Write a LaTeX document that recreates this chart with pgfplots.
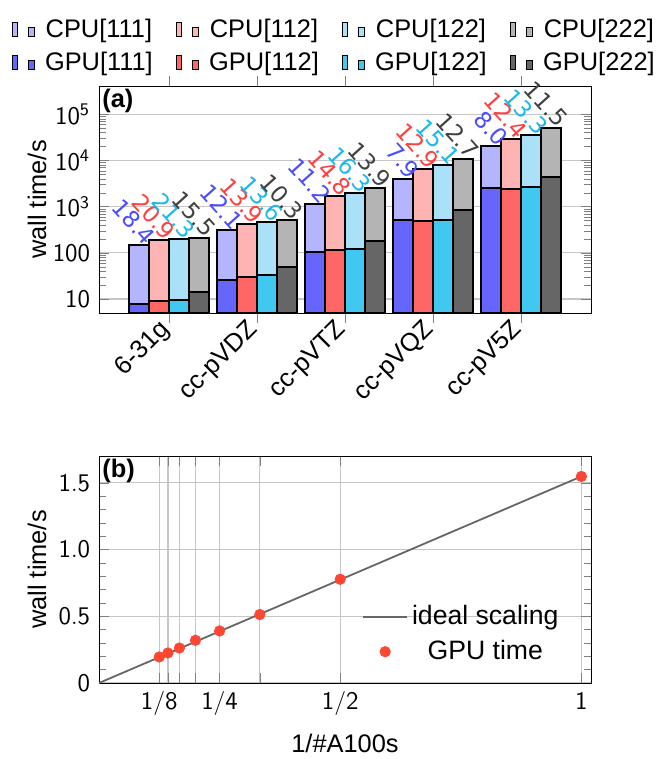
\documentclass[border=0pt]{standalone}
\usepackage{fontspec}
\setmainfont{Liberation Sans}
\newfontfamily\dv{DejaVu Sans}
\usepackage{pgfplots}
\pgfplotsset{compat=1.18}
\definecolor{ad}{RGB}{102,102,255}
\definecolor{al}{RGB}{180,180,255}
\definecolor{bd}{RGB}{255,102,102}
\definecolor{bl}{RGB}{255,180,180}
\definecolor{cd}{RGB}{64,200,240}
\definecolor{cl}{RGB}{170,224,248}
\definecolor{dd}{RGB}{102,102,102}
\definecolor{dl}{RGB}{180,180,180}
\definecolor{ta}{RGB}{77,77,255}
\definecolor{tb}{RGB}{255,64,64}
\definecolor{tc}{RGB}{27,185,235}
\definecolor{td}{RGB}{64,64,64}
\definecolor{dot}{RGB}{255,70,50}
\pgfplotstableread{
x cpu gpu s
0 146.8 7.98 18.4
1 315 26.0 12.1
2 1161 103.7 11.2
3 4037 511 7.9
4 20100 2513 8.0
}\tA
\pgfplotstableread{
x cpu gpu s
0 188 9.0 20.9
1 412 29.6 13.9
2 1680 113.5 14.8
3 6430 498 12.9
4 29900 2411 12.4
}\tB
\pgfplotstableread{
x cpu gpu s
0 201 9.44 21.3
1 455 33.5 13.6
2 2010 123.3 16.3
3 7850 520 15.1
4 35300 2654 13.3
}\tC
\pgfplotstableread{
x cpu gpu s
0 215 13.9 15.5
1 510 49.5 10.3
2 2500 180 13.9
3 10880 857 12.7
4 51600 4487 11.5
}\tD
\pgfplotstableread{
x t
1 154700
0.5 77700
0.333333 51300
0.25 39000
0.2 32000
0.166667 26200
0.142857 22500
0.125 19500
}\tS
\begin{document}
\fontsize{12.7}{15}\selectfont
\begin{tikzpicture}[font=\fontsize{12.7}{15}\selectfont]
\pgfplotsset{
  lab/.style={draw=none, fill=none, forget plot, nodes near coords, point meta=explicit symbolic,
    nodes near coords style={text=#1, font=\dv\fontsize{11.5}{13}\selectfont,
      xshift=7pt, yshift=1pt, rotate=-48, anchor=east, inner sep=1pt}},
}
\begin{axis}[
  scale only axis, width=246pt, height=113.5pt,
  ymode=log, ymin=5, ymax=4.1e5, log origin=infty,
  xmin=-0.795, xmax=4.795,
  ybar, bar width=10pt,
  xtick={0,1,2,3,4},
  xticklabels={6-31g,cc-pVDZ,cc-pVTZ,cc-pVQZ,cc-pV5Z},
  xticklabel style={rotate=45, anchor=east, inner sep=2pt},
  xtick align=outside,
  major tick length=5pt, minor tick length=3.5pt,
  ytick={10,100,1000,10000,100000},
  yticklabels={$\mathsf{10}$,$\mathsf{100}$,$\mathsf{10^3}$,$\mathsf{10^4}$,$\mathsf{10^5}$},
  ymajorgrids, grid style={gray!45, line width=0.6pt},
  ylabel={wall time/s},
  ylabel style={at={(axis description cs:-0.126,0.5)}, anchor=center},
  legend columns=4,
  legend style={at={(0.48,1.014)}, anchor=south, draw=none, fill=none,
    row sep=1.5pt,
    /tikz/every odd column/.append style={column sep=3pt},
    /tikz/every even column/.append style={column sep=9.5pt}},
  legend image code/.code={
    \draw[#1, line width=0.7pt] (0pt,-3.2pt) rectangle (2.5pt,3.8pt);
    \draw[#1, line width=0.7pt] (8pt,-3.2pt) rectangle (11pt,1.3pt);},
  every axis plot/.append style={draw=black, line width=1pt},
]
\addplot[fill=al, bar shift=-15pt] table[x=x,y=cpu] {\tA};
\addlegendentry{CPU[111]}
\addplot[fill=bl, bar shift=-5pt] table[x=x,y=cpu] {\tB};
\addlegendentry{CPU[112]}
\addplot[fill=cl, bar shift=5pt] table[x=x,y=cpu] {\tC};
\addlegendentry{CPU[122]}
\addplot[fill=dl, bar shift=15pt] table[x=x,y=cpu] {\tD};
\addlegendentry{CPU[222]}
\addplot[fill=ad, bar shift=-15pt] table[x=x,y=gpu] {\tA};
\addlegendentry{GPU[111]}
\addplot[fill=bd, bar shift=-5pt] table[x=x,y=gpu] {\tB};
\addlegendentry{GPU[112]}
\addplot[fill=cd, bar shift=5pt] table[x=x,y=gpu] {\tC};
\addlegendentry{GPU[122]}
\addplot[fill=dd, bar shift=15pt] table[x=x,y=gpu] {\tD};
\addlegendentry{GPU[222]}
\addplot[bar shift=-15pt, lab=ta] table[x=x,y=cpu,meta=s] {\tA};
\addplot[bar shift=-5pt, lab=tb] table[x=x,y=cpu,meta=s] {\tB};
\addplot[bar shift=5pt, lab=tc] table[x=x,y=cpu,meta=s] {\tC};
\addplot[bar shift=15pt, lab=td] table[x=x,y=cpu,meta=s] {\tD};
\node[anchor=north west, inner sep=1.5pt, font=\bfseries\fontsize{12.7}{15}\selectfont] at (rel axis cs:0,1) {(a)};
\end{axis}
\begin{axis}[
  at={(0,-185pt)},
  scale only axis, width=246pt, height=113.5pt,
  xmin=0, xmax=1.02, ymin=0, ymax=1.7e5,
  tick align=inside,
  xtick={0.125,0.142857,0.166667,0.2,0.25,0.333333,0.5,1},
  xticklabels={$\mathsf{1/8}$,,,,$\mathsf{1/4}$,,$\mathsf{1/2}$,$\mathsf{1}$},
  ytick={0,50000,100000,150000},
  yticklabels={$\mathsf{0}$,$\mathsf{0.5}$,$\mathsf{1.0}$,$\mathsf{1.5}$},
  scaled y ticks=false,
  minor y tick num=4,
  major tick length=5pt, minor tick length=3.5pt,
  grid=major, grid style={gray!45, line width=0.6pt},
  xlabel={1/\#A100s}, ylabel={wall time/s},
  xlabel style={at={(axis description cs:0.5,-0.264)}, anchor=center},
  ylabel style={at={(axis description cs:-0.126,0.5)}, anchor=center},
  legend style={at={(0.955,0.05)}, anchor=south east, draw=none, fill=none,
    row sep=2pt, font=\fontsize{13.3}{16}\selectfont},
  legend image code/.code={\draw[#1, mark repeat=2, mark phase=2] plot coordinates {(0pt,0pt) (11pt,0pt) (22pt,0pt)};},
]
\addplot[black!60, line width=0.9pt] coordinates {(0,0) (1,154700)};
\addlegendentry{ideal scaling}
\addplot[only marks, mark=*, mark size=2.6pt, color=dot] table[x=x,y=t] {\tS};
\addlegendentry{GPU time}
\node[anchor=north west, inner sep=1.5pt, font=\bfseries\fontsize{12.7}{15}\selectfont] at (rel axis cs:0,1) {(b)};
\node[anchor=south west, inner sep=0pt, xshift=6pt, yshift=4pt] at (rel axis cs:0,1) {$\mathsf{\cdot 10^5}$};
\end{axis}
\pgfresetboundingbox
\useasboundingbox (-49.5pt,156.5pt) rectangle (280.5pt,-223pt);
\end{tikzpicture}
\end{document}
